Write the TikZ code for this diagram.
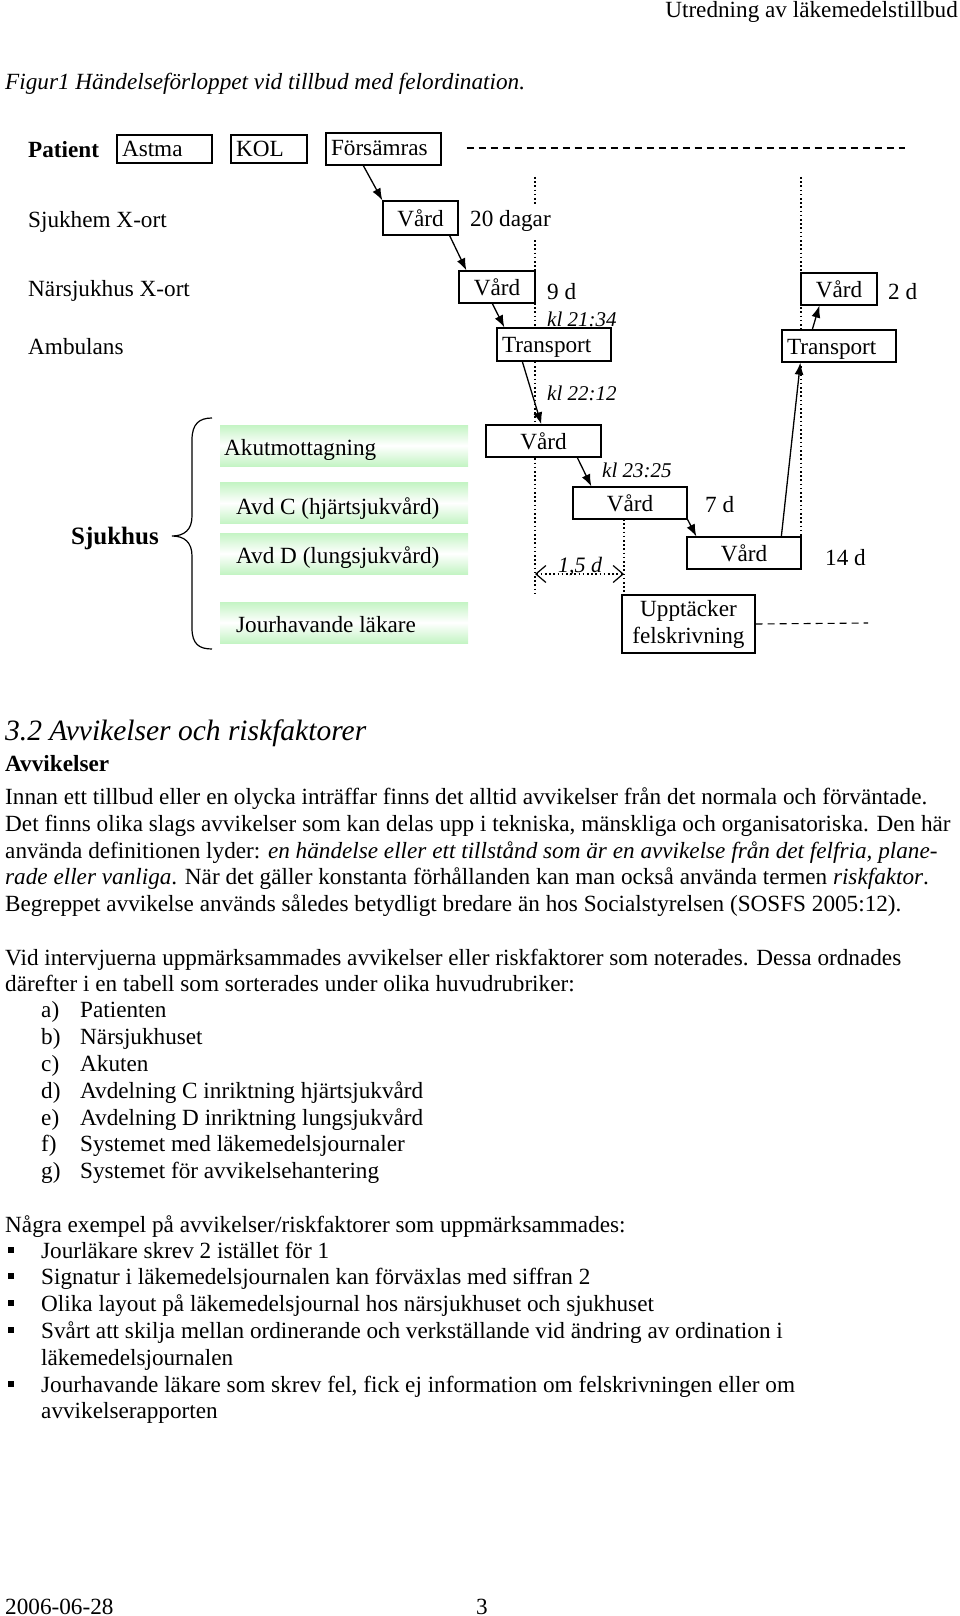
\documentclass[tikz,border=0pt]{standalone}
\usepackage{fontspec}
\setmainfont{Liberation Serif}
\usetikzlibrary{arrows.meta,calc}
\definecolor{gr}{RGB}{196,244,196}
\begin{document}
\begin{tikzpicture}[x=1pt,y=-1pt,
  every node/.style={font=\fontsize{23.2}{27}\selectfont},
  txt/.style={inner sep=0pt, anchor=west, text height=16pt, text depth=5pt, yshift=-2.5pt},
  ital/.style={txt, font=\fontsize{21}{25}\selectfont\itshape, yshift=-0.5pt},
  box/.style={draw, line width=1.3pt, fill=white, inner sep=0pt, text height=18.5pt, text depth=2pt},
  lbox/.style={box, align=left, inner xsep=5pt},
  arr/.style={line width=1.3pt, -{Latex[length=12pt,width=9pt]}},
  dotl/.style={line width=1.6pt, dash pattern=on 1.6pt off 2.6pt},
  dashl/.style={line width=1.1pt, dash pattern=on 7pt off 5pt},
  gbar/.style={inner sep=0pt, top color=gr, bottom color=gr, middle color=white, minimum width=248pt, minimum height=41pt},
  sq/.style={fill=black, inner sep=0pt, minimum size=6pt}
]
\useasboundingbox (0,0) rectangle (960,1616);

% header and caption
\node[txt, anchor=east] (hdr) at (958,10) {Utredning av läkemedelstillbud};
\node[txt] (cap) at (5,82) {\itshape Figur1 Händelseförloppet vid tillbud med felordination.};

% row labels
\node[txt] (patient) at (28,150) {\bfseries Patient};
\node[txt] (sjukhem) at (28,219) {Sjukhem X-ort};
\node[txt] (narsj) at (28,288) {Närsjukhus X-ort};
\node[txt] (ambul) at (28,346) {Ambulans};

% dotted guide lines
\coordinate (d1t) at (535,177);
\coordinate (d1b) at (535,593);
\coordinate (d2t) at (801,177);
\coordinate (d2b) at (801,537);
\coordinate (d3t) at (624,519);
\coordinate (d3b) at (624,593);
\draw[dotl] (d1t) -- (d1b);
\draw[dotl] (d2t) -- (d2b);
\draw[dotl] (d3t) -- (d3b);

% green bars
\node[gbar] (bar1) at (344,445.5) {};
\node[gbar] (bar2) at (344,503) {};
\node[gbar] (bar3) at (344,553.5) {};
\node[gbar] (bar4) at (344,622.5) {};
\node[txt] (akut) at (224,447) {Akutmottagning};
\node[txt] (avdc) at (236,506) {Avd C (hjärtsjukvård)};
\node[txt] (avdd) at (236,555) {Avd D (lungsjukvård)};
\node[txt] (jour) at (236,624) {Jourhavande läkare};

% brace and Sjukhus
\node[txt, font=\fontsize{25}{29}\selectfont\bfseries] (sjukhus) at (71,536) {Sjukhus};
\draw[line width=1.2pt] (212,418) .. controls (199,418) and (192,424) .. (192,440) -- (192,516)
  .. controls (192,530) and (184,536) .. (172,536)
  .. controls (184,536) and (192,542) .. (192,556) -- (192,628)
  .. controls (192,644) and (199,649) .. (212,649);

% patient boxes
\node[lbox, minimum width=95pt, minimum height=28pt, text width=85pt, text height=17pt, text depth=2pt] (astma) at (164.5,149) {Astma};
\node[lbox, minimum width=76pt, minimum height=28pt, text width=66pt, text height=17pt, text depth=2pt] (kol) at (269,149) {KOL};
\node[lbox, minimum width=115pt, minimum height=32pt, text width=105pt, text height=16pt, text depth=3pt] (fors) at (383.5,149) {Försämras};
\coordinate (dashend) at (905,148);
\draw[dashl] ($(fors.east)+(25,-1)$) -- (dashend);

% flow boxes
\node[box, minimum width=75pt, minimum height=34pt] (v1) at (420.5,218) {Vård};
\node[txt, fill=white, minimum height=32pt, text height=, text depth=, yshift=2.5pt] (dagar) at (470,221) {20 dagar};
\node[box, minimum width=76pt, minimum height=32pt] (v2) at (497,287) {Vård};
\node[lbox, minimum width=114pt, minimum height=33pt, text width=104pt] (t1) at (554,344.5) {Transport};
\node[box, minimum width=115pt, minimum height=32pt] (v3) at (543.5,441) {Vård};
\node[box, minimum width=114pt, minimum height=32pt] (v4) at (630,503) {Vård};
\node[box, minimum width=114pt, minimum height=32pt] (v5) at (744,553) {Vård};
\node[draw, line width=1.3pt, fill=white, inner sep=0pt, minimum width=133pt, minimum height=58pt, align=center,
      font=\fontsize{23.2}{27}\selectfont] (upp) at (688.5,624) {Upptäcker\\felskrivning};
\node[box, minimum width=76pt, minimum height=32pt] (v6) at (839,289) {Vård};
\node[lbox, minimum width=114pt, minimum height=32pt, text width=104pt] (t2) at (839,346) {Transport};

% labels
\node[txt] (l9d) at (547,291) {9 d};
\node[ital] (kl1) at (547,318) {kl 21:34};
\node[ital] (kl2) at (547,392) {kl 22:12};
\node[ital] (kl3) at (602,469) {kl 23:25};
\node[txt] (l7d) at (705,504) {7 d};
\node[txt] (l14d) at (825,557) {14 d};
\node[txt] (l2d) at (888,291) {2 d};

% arrows
\draw[arr] ($(fors.south west)+(38,0)$) -- (v1.north west);
\draw[arr] ($(v1.south east)+(-9,0)$) -- ($(v2.north west)+(8,0)$);
\draw[arr] ($(v2.south west)+(34,0)$) -- ($(t1.north west)+(8,0)$);
\draw[arr] ($(t1.south west)+(26,0)$) -- ($(v3.north west)+(56,0)$);
\draw[arr] ($(v3.south west)+(92,0)$) -- ($(v4.north west)+(19,0)$);
\draw[arr] (v4.south east) -- ($(v5.north west)+(10,0)$);
\draw[arr] ($(v5.north west)+(95,0)$) -- ($(t2.south west)+(19,0)$);
\draw[arr] ($(t2.north west)+(31,0)$) -- ($(v6.south west)+(19,0)$);

% 1,5 d
\coordinate (ha) at (535,574);
\coordinate (hb) at (624,574);
\draw[dotl, {Straight Barb[length=10pt,width=17pt,line width=1.2pt]}-{Straight Barb[length=10pt,width=17pt,line width=1.2pt]}] (ha) -- (hb);
\node[txt, font=\fontsize{22}{26}\selectfont\itshape, yshift=0.5pt] (l15) at (558,565) {1,5 d};

% dashed from Upptäcker
\coordinate (dash2end) at (868,623);
\draw[dashl] (upp.east) -- (dash2end);

% text section
\node[txt, font=\fontsize{29.5}{34}\selectfont\itshape, text height=20pt, text depth=7pt] (h32) at (5,731) {3.2 Avvikelser och riskfaktorer};
\node[txt] (havv) at (5,763) {\bfseries Avvikelser};
\node[txt] (p1) at (5,796) {Innan ett tillbud eller en olycka inträffar finns det alltid avvikelser från det normala och förväntade.};
\node[txt] (p2) at (5,823) {Det finns olika slags avvikelser som kan delas upp i tekniska, mänskliga och organisatoriska. Den här};
\node[txt] (p3) at (5,850) {använda definitionen lyder: \textit{en händelse eller ett tillstånd som är en avvikelse från det felfria, plane-}};
\node[txt] (p4) at (5,876) {\textit{rade eller vanliga}. När det gäller konstanta förhållanden kan man också använda termen \textit{riskfaktor}.};
\node[txt] (p5) at (5,903) {Begreppet avvikelse används således betydligt bredare än hos Socialstyrelsen (SOSFS 2005:12).};
\node[txt] (q1) at (5,957) {Vid intervjuerna uppmärksammades avvikelser eller riskfaktorer som noterades. Dessa ordnades};
\node[txt] (q2) at (5,983) {därefter i en tabell som sorterades under olika huvudrubriker:};

\node[txt] (la) at (41,1009) {a)}; \node[txt] (ta) at (80,1009) {Patienten};
\node[txt] (lb) at (41,1036) {b)}; \node[txt] (tb) at (80,1036) {Närsjukhuset};
\node[txt] (lc) at (41,1063) {c)}; \node[txt] (tc) at (80,1063) {Akuten};
\node[txt] (ld) at (41,1090) {d)}; \node[txt] (td) at (80,1090) {Avdelning C inriktning hjärtsjukvård};
\node[txt] (le) at (41,1117) {e)}; \node[txt] (te) at (80,1117) {Avdelning D inriktning lungsjukvård};
\node[txt] (lf) at (41,1143) {f)}; \node[txt] (tf) at (80,1143) {Systemet med läkemedelsjournaler};
\node[txt] (lg) at (41,1170) {g)}; \node[txt] (tg) at (80,1170) {Systemet för avvikelsehantering};

\node[txt] (r0) at (5,1224) {Några exempel på avvikelser/riskfaktorer som uppmärksammades:};
\node[sq] (s1) at (11,1250) {}; \node[txt] (r1) at (41,1250) {Jourläkare skrev 2 istället för 1};
\node[sq] (s2) at (11,1276) {}; \node[txt] (r2) at (41,1276) {Signatur i läkemedelsjournalen kan förväxlas med siffran 2};
\node[sq] (s3) at (11,1303) {}; \node[txt] (r3) at (41,1303) {Olika layout på läkemedelsjournal hos närsjukhuset och sjukhuset};
\node[sq] (s4) at (11,1330) {}; \node[txt] (r4) at (41,1330) {Svårt att skilja mellan ordinerande och verkställande vid ändring av ordination i};
\node[txt] (r4b) at (41,1357) {läkemedelsjournalen};
\node[sq] (s5) at (11,1384) {}; \node[txt] (r5) at (41,1384) {Jourhavande läkare som skrev fel, fick ej information om felskrivningen eller om};
\node[txt] (r5b) at (41,1410) {avvikelserapporten};

% footer
\node[txt] (date) at (5,1606) {2006-06-28};
\node[txt] (pg) at (476,1606) {3};
\end{tikzpicture}
\end{document}
